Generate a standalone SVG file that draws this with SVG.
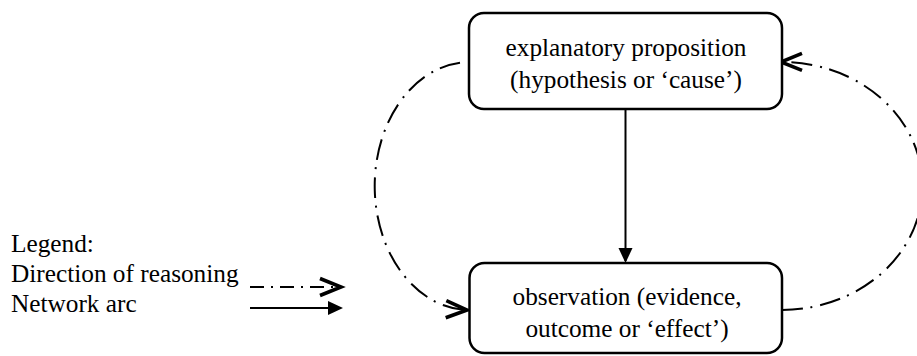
<svg xmlns="http://www.w3.org/2000/svg" width="917" height="356" viewBox="0 0 917 356">
<style>
.box{fill:#fff;stroke:#000;stroke-width:2.5}
.lbl{font-family:"Liberation Serif","Times New Roman",serif;font-size:25.3px;fill:#000}
.c{text-anchor:middle}
.reason{fill:none;stroke:#000;stroke-width:2;stroke-dasharray:21 7.5 2 8;marker-end:url(#chev)}
.arc{fill:none;stroke:#000;stroke-width:2;marker-end:url(#tri)}
</style>
<defs>
<marker id="chev" markerUnits="userSpaceOnUse" markerWidth="30" markerHeight="30" refX="0" refY="0" orient="auto" overflow="visible">
<path d="M -21 -8.5 L 0 0 L -21 8.5" fill="none" stroke="#000" stroke-width="3.6" stroke-dasharray="none"/>
</marker>
<marker id="tri" markerUnits="userSpaceOnUse" markerWidth="30" markerHeight="30" refX="0" refY="0" orient="auto" overflow="visible">
<path d="M -13 -7 L 2 0 L -13 7 Z" fill="#000" stroke="none"/>
</marker>
</defs>
<g id="connectors">
<path id="reason-left" class="reason" d="M 460 62.7 A 95 124 0 0 0 467 310"/>
<path id="reason-right" class="reason" d="M 782 310 A 141 124 0 0 0 781 62"/>
<path id="arc-main" class="arc" d="M 625.5 109 L 625.5 261"/>
</g>
<g id="node-hypothesis">
<rect class="box" x="469" y="13" width="313" height="96" rx="15" ry="15"/>
<text class="lbl c" x="626" y="56">explanatory proposition</text>
<text class="lbl c" x="626" y="88">(hypothesis or ‘cause’)</text>
</g>
<g id="node-observation">
<rect class="box" x="469.5" y="263" width="312.5" height="90" rx="15" ry="15"/>
<text class="lbl c" x="627" y="305">observation (evidence,</text>
<text class="lbl c" x="627" y="337">outcome or ‘effect’)</text>
</g>
<g id="legend">
<text class="lbl" x="11" y="252">Legend:</text>
<text class="lbl" x="11" y="282">Direction of reasoning</text>
<text class="lbl" x="11" y="312">Network arc</text>
<path class="reason" style="stroke-dasharray:14 7 2 7" d="M 250 287 L 341 287"/>
<path class="arc" d="M 250 308 L 341 308"/>
</g>
</svg>
